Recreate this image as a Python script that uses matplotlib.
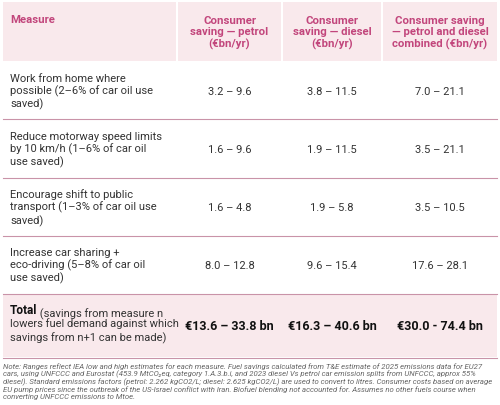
import matplotlib
matplotlib.use("Agg")
import matplotlib.pyplot as plt
from matplotlib.patches import Rectangle
from matplotlib.lines import Line2D

headers = ["Measure", "Consumer\nsaving — petrol\n(€bn/yr)", "Consumer\nsaving — diesel\n(€bn/yr)",
           "Consumer saving\n— petrol and diesel\ncombined (€bn/yr)"]
measures = ["Work from home where\npossible (2–6% of car oil use\nsaved)",
            "Reduce motorway speed limits\nby 10 km/h (1–6% of car oil\nuse saved)",
            "Encourage shift to public\ntransport (1–3% of car oil use\nsaved)",
            "Increase car sharing +\neco-driving (5–8% of car oil\nuse saved)"]
petrol = ["3.2 – 9.6", "1.6 – 9.6", "1.6 – 4.8", "8.0 – 12.8"]
diesel = ["3.8 – 11.5", "1.9 – 11.5", "1.9 – 5.8", "9.6 – 15.4"]
combined = ["7.0 – 21.1", "3.5 – 21.1", "3.5 – 10.5", "17.6 – 28.1"]
totals = ["€13.6 – 33.8 bn", "€16.3 – 40.6 bn", "€30.0 - 74.4 bn"]
note = ("Note: Ranges reflect IEA low and high estimates for each measure. Fuel savings calculated from T&E estimate of 2025 emissions data for EU27\n"
        "cars, using UNFCCC and Eurostat (453.9 MtCO₂eq, category 1.A.3.b.i, and 2023 diesel Vs petrol car emission splits from UNFCCC, approx 55%\n"
        "diesel). Standard emissions factors (petrol: 2.262 kgCO2/L; diesel: 2.625 kgCO2/L) are used to convert to litres. Consumer costs based on average\n"
        "EU pump prices since the outbreak of the US-Israel conflict with Iran. Biofuel blending not accounted for. Assumes no other fuels course when\n"
        "converting UNFCCC emissions to Mtoe.")

plt.rcParams['font.family'] = ['Roboto', 'DejaVu Sans']
W, H = 500, 406
fig = plt.figure(figsize=(5, 4.06), dpi=100)
ax = fig.add_axes([0, 0, 1, 1])
ax.set_xlim(0, W); ax.set_ylim(H, 0); ax.axis('off')

pink_bg = '#f9e9ec'
hdr_col = '#c2467c'
line_col = '#c993a8'
txt = '#333333'
cols = [(3, 176), (178, 281), (283, 381), (383, 497)]
centers = [(a + b) / 2 for a, b in cols]

for a, b in cols:
    ax.add_patch(Rectangle((a, 3), b - a, 59, color=pink_bg, lw=0))
ax.text(10, 20, headers[0], color=hdr_col, fontsize=8.2, weight='bold', va='center', ha='left')
for i in range(1, 4):
    ax.text(centers[i], 33, headers[i], color=hdr_col, fontsize=8.2, weight='bold',
            va='center', ha='center', linespacing=1.15)

row_c = [92, 150, 208, 266]
seps = [120, 179, 237, 295]
fs = 8.0
for i in range(4):
    ax.text(10, row_c[i], measures[i], color=txt, fontsize=fs, va='center', ha='left', linespacing=1.2)
    for j, v in enumerate([petrol[i], diesel[i], combined[i]]):
        ax.text(centers[j + 1], row_c[i], v, color=txt, fontsize=fs, va='center', ha='center')
    ax.add_line(Line2D([3, 497], [seps[i], seps[i]], color=line_col, lw=0.8))

ax.add_patch(Rectangle((3, 296), 494, 62, color=pink_bg, lw=0))
ax.add_line(Line2D([3, 497], [359, 359], color=line_col, lw=0.8))
t = ax.text(10, 314, "Total", color='#111111', fontsize=fs + 0.6, weight='bold', va='baseline', ha='left')
ax.annotate(" (savings from measure n", xy=(1, 0), xycoords=t, va='baseline', ha='left',
            color='#333333', fontsize=fs)
ax.text(10, 327.5, "lowers fuel demand against which", color='#333333', fontsize=fs, va='baseline', ha='left')
ax.text(10, 341, "savings from n+1 can be made)", color='#333333', fontsize=fs, va='baseline', ha='left')
for j, v in enumerate(totals):
    ax.text(centers[j + 1], 327, v, color='#111111', fontsize=9.0, weight='bold', va='center', ha='center')

ax.text(3, 363, note, color='#666666', fontsize=5.6, style='italic', va='top', ha='left', linespacing=1.08)

fig.savefig('out.png', dpi=100, facecolor='white')
